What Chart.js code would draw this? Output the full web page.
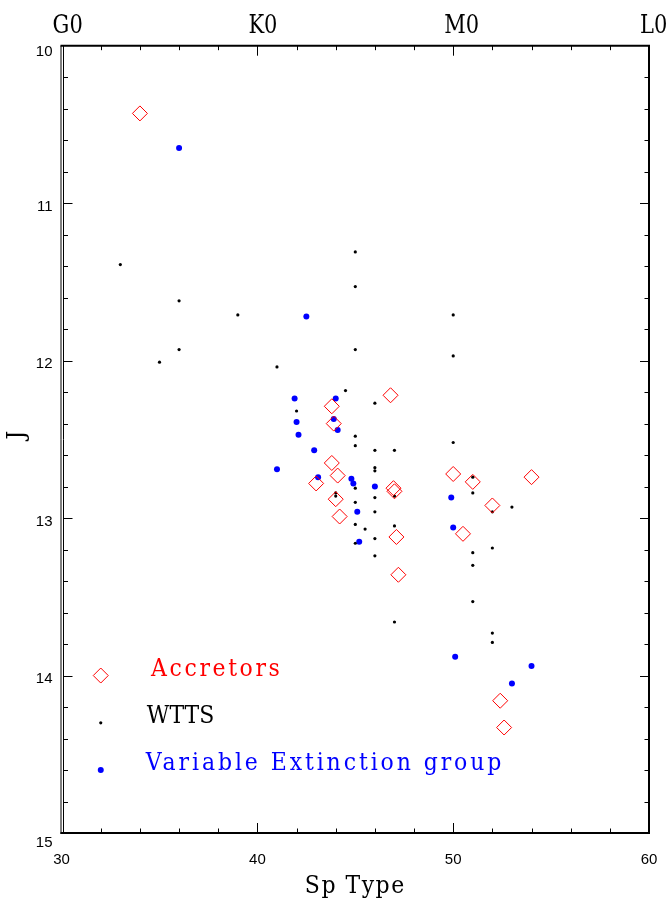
<!DOCTYPE html>
<html>
<head>
<meta charset="utf-8">
<title>J vs Sp Type</title>
<script src="https://cdn.jsdelivr.net/npm/chart.js@4.4.1/dist/chart.umd.min.js"></script>
<style>
  html, body { margin: 0; padding: 0; background: #fff; }
  #wrap { width: 666px; height: 901px; }
</style>
</head>
<body>
<div id="wrap"><canvas id="spChart" width="666" height="901"></canvas></div>
<script>
// --- data: spectral type index (30 = G0, 40 = K0, 50 = M0, 60 = L0) vs J magnitude ---
const accSpType = [34.0, 46.8, 43.8, 43.9, 43.8, 44.1, 43.0, 44.0, 44.2, 46.95, 47.0, 47.1, 47.2,
                   50.0, 51.0, 54.0, 52.0, 50.5, 52.4, 52.6];
const accJ      = [10.43, 12.22, 12.29, 12.40, 12.65, 12.73, 12.78, 12.88, 12.99, 12.81, 12.83, 13.12, 13.36,
                   12.72, 12.77, 12.74, 12.92, 13.10, 14.16, 14.33];

const wttsSpType = [33, 36, 39, 45, 45, 36, 35, 41, 45, 44.5, 46, 42, 45, 45, 46, 47, 46, 46, 44, 44,
                    45, 47, 46, 45, 46, 45, 45.5, 47, 46, 45, 46, 47,
                    50, 50, 50, 51, 51, 52, 53, 52, 51, 51, 51, 52, 52];
const wttsJ      = [11.39, 11.62, 11.71, 11.31, 11.53, 11.93, 12.01, 12.04, 11.93, 12.19, 12.27, 12.32,
                    12.48, 12.54, 12.57, 12.57, 12.68, 12.70, 12.84, 12.86,
                    12.81, 12.86, 12.87, 12.90, 12.96, 13.04, 13.07, 13.05, 13.13, 13.16, 13.24, 13.66,
                    11.71, 11.97, 12.52, 12.74, 12.84, 12.96, 12.93, 13.19, 13.22, 13.30, 13.53, 13.73, 13.79];

const vegSpType = [36.0, 42.5, 41.9, 44.0, 42.0, 43.9, 42.1, 44.1, 42.9, 41.0, 43.1, 44.8, 44.9, 46.0,
                   45.1, 45.2, 49.9, 50.0, 50.1, 54.0, 53.0];
const vegJ      = [10.65, 11.72, 12.24, 12.24, 12.39, 12.37, 12.47, 12.44, 12.57, 12.69, 12.74, 12.75,
                   12.78, 12.80, 12.96, 13.15, 12.87, 13.06, 13.88, 13.94, 14.05];

// axis ticks and labels
const xTickValues = [30, 40, 50, 60];
const yTickValues = [10, 11, 12, 13, 14, 15];
const spClassLabels = ['G0', 'K0', 'M0', 'L0'];

// legend rows: symbol position (data units), text start x
const legendNames = ['Accretors', 'WTTS', 'Variable Extinction group'];
const legendSymX = [32, 32, 32];
const legendSymY = [14.0, 14.3, 14.6];
const legendTextX = [34.57, 34.35, 34.3];

const RED = '#ff0000';
const BLUE = '#0000ff';
const BLACK = '#000000';

function toPoints(xs, ys) {
  return xs.map((x, i) => ({ x: x, y: ys[i] }));
}

// serif text, stretched a little vertically and spaced out
function serifText(ctx, text, x, y, size, color, align, yScale, spacing) {
  ctx.save();
  ctx.translate(x, y);
  ctx.scale(1, yScale || 1.12);
  ctx.font = size + 'px "DejaVu Serif"';
  ctx.letterSpacing = (spacing === undefined ? 2.6 : spacing) + 'px';
  ctx.fillStyle = color;
  ctx.textAlign = align || 'left';
  ctx.textBaseline = 'alphabetic';
  ctx.fillText(text, 0, 0);
  ctx.restore();
}

const frameAxes = {
  id: 'frameAxes',
  afterDraw(chart) {
    const ctx = chart.ctx;
    const xs = chart.scales.x;
    const ys = chart.scales.y;
    const a = chart.chartArea;

    ctx.save();
    ctx.strokeStyle = BLACK;

    // box: double line on the left side
    ctx.lineWidth = 1;
    ctx.beginPath();
    ctx.moveTo(61, a.top); ctx.lineTo(61, a.bottom + 1);
    ctx.moveTo(63.5, a.top); ctx.lineTo(63.5, a.bottom);
    ctx.stroke();
    ctx.lineWidth = 2;
    ctx.beginPath();
    ctx.moveTo(60.5, a.top); ctx.lineTo(a.right, a.top);
    ctx.lineTo(a.right, a.bottom);
    ctx.lineTo(60.5, a.bottom);
    ctx.stroke();

    // x ticks, bottom and top, every 2 units
    ctx.lineWidth = 1;
    ctx.beginPath();
    for (let v = 32; v < 60; v += 2) {
      const px = Math.round(xs.getPixelForValue(v)) + 0.5;
      const len = (v % 10 === 0) ? 10 : 4.5;
      ctx.moveTo(px, a.bottom); ctx.lineTo(px, a.bottom - len);
      ctx.moveTo(px, a.top); ctx.lineTo(px, a.top + len);
    }
    // y ticks, left and right, every 0.2
    for (let k = 1; k < 25; k++) {
      const v = 10 + k * 0.2;
      const py = Math.round(ys.getPixelForValue(v)) + 0.5;
      const len = (k % 5 === 0) ? 9 : 4.5;
      ctx.moveTo(63.5, py); ctx.lineTo(63.5 + len, py);
      ctx.moveTo(a.right, py); ctx.lineTo(a.right - len, py);
    }
    ctx.stroke();

    // numeric tick labels
    ctx.fillStyle = BLACK;
    ctx.font = '15px "Liberation Sans"';
    ctx.textAlign = 'center';
    ctx.textBaseline = 'middle';
    xTickValues.forEach(v => {
      ctx.fillText(String(v), xs.getPixelForValue(v), 860);
    });
    ctx.textAlign = 'right';
    yTickValues.forEach(v => {
      let py = ys.getPixelForValue(v) + 3.5;
      if (v === 10) py = 52;
      if (v === 15) py = 843;
      ctx.fillText(String(v), 52.5, py);
    });

    // spectral class labels along the top
    xTickValues.forEach((v, i) => {
      serifText(ctx, spClassLabels[i], xs.getPixelForValue(v) - 9, 33, 21, BLACK, 'left', 1.25, 0);
    });

    // axis titles
    serifText(ctx, 'Sp Type', (a.left + a.right) / 2, 893, 22, BLACK, 'center', 1.12, 1.5);
    ctx.save();
    ctx.translate(24, 435);
    ctx.rotate(-Math.PI / 2);
    serifText(ctx, 'J', 0, 0, 22, BLACK, 'center', 1.12, 0);
    ctx.restore();

    // legend
    const colors = [RED, BLACK, BLUE];
    const spacings = [2.6, 0, 2.9];
    legendNames.forEach((name, i) => {
      const sx = xs.getPixelForValue(legendSymX[i]);
      const sy = ys.getPixelForValue(legendSymY[i]);
      ctx.beginPath();
      if (i === 0) {
        ctx.strokeStyle = RED;
        ctx.lineWidth = 1;
        ctx.moveTo(sx, sy - 7.5); ctx.lineTo(sx + 7.5, sy);
        ctx.lineTo(sx, sy + 7.5); ctx.lineTo(sx - 7.5, sy);
        ctx.closePath();
        ctx.stroke();
      } else {
        ctx.fillStyle = colors[i];
        ctx.arc(sx, sy, i === 1 ? 1.6 : 3, 0, Math.PI * 2);
        ctx.fill();
      }
      serifText(ctx, name, xs.getPixelForValue(legendTextX[i]), sy, 22, colors[i], 'left', 1.12, spacings[i]);
    });

    ctx.restore();
  }
};

const ctx = document.getElementById('spChart').getContext('2d');
new Chart(ctx, {
  type: 'scatter',
  data: {
    datasets: [
      {
        label: 'Accretors',
        data: toPoints(accSpType, accJ),
        pointStyle: 'rectRot',
        pointRadius: 7.5,
        borderColor: RED,
        borderWidth: 1,
        backgroundColor: 'rgba(0,0,0,0)',
        clip: false,
        order: 1
      },
      {
        label: 'WTTS',
        data: toPoints(wttsSpType, wttsJ),
        pointStyle: 'circle',
        pointRadius: 1.6,
        borderWidth: 0,
        backgroundColor: BLACK,
        clip: false,
        order: 2
      },
      {
        label: 'Variable Extinction group',
        data: toPoints(vegSpType, vegJ),
        pointStyle: 'circle',
        pointRadius: 3,
        borderWidth: 0,
        backgroundColor: BLUE,
        clip: false,
        order: 3
      }
    ]
  },
  options: {
    responsive: false,
    animation: false,
    layout: { padding: { left: 61.6, top: 45.7, right: 17, bottom: 68 } },
    plugins: {
      legend: { display: false },
      tooltip: { enabled: false }
    },
    scales: {
      x: { type: 'linear', min: 30, max: 60, display: false },
      y: { type: 'linear', min: 10, max: 15, reverse: true, display: false }
    }
  },
  plugins: [frameAxes]
});
</script>
</body>
</html>
